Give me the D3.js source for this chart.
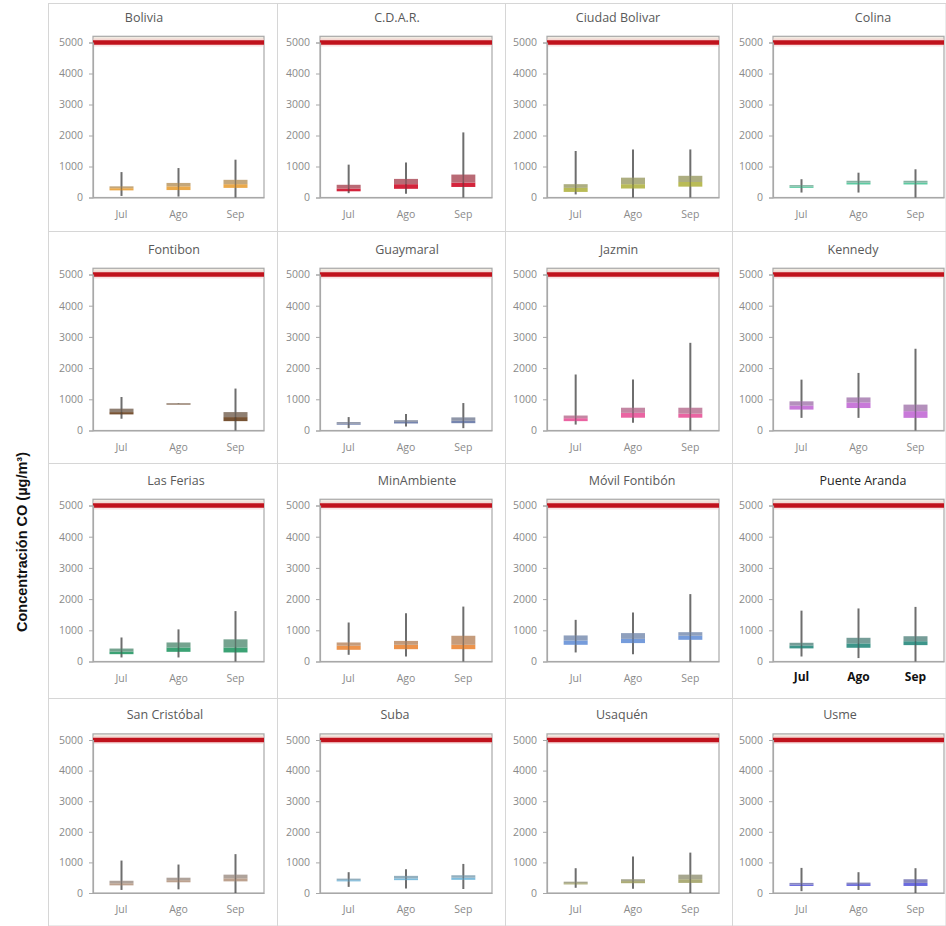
<!DOCTYPE html>
<html>
<head>
<meta charset="utf-8">
<script src="https://cdn.jsdelivr.net/npm/d3@7"></script>
<style>
  html, body { margin: 0; padding: 0; background: #fff; }
  svg { display: block; }
</style>
</head>
<body>
<svg id="chart" width="946" height="926"></svg>
<script>
// Hourly CO concentration by station, July–September (µg/m³)
const months = ["Jul", "Ago", "Sep"];
const stations = [
  "Bolivia", "C.D.A.R.", "Ciudad Bolivar", "Colina",
  "Fontibon", "Guaymaral", "Jazmin", "Kennedy",
  "Las Ferias", "MinAmbiente", "Móvil Fontibón", "Puente Aranda",
  "San Cristóbal", "Suba", "Usaquén", "Usme"
];
const boxColors = [
  "#E9A23B", "#D0112B", "#B3B548", "#4FC79A",
  "#6B4423", "#6A7BA8", "#E8579A", "#C36ED6",
  "#2A9A68", "#EB8A3C", "#6A94D8", "#2C8C80",
  "#B79A86", "#74B7DA", "#A5A56B", "#5E5EDB"
];
const whiskerLow = [
  [50, 30, 0], [140, 120, 0], [100, 0, 0], [160, 160, 0],
  [377, 855, 0], [75, 130, 75], [190, 250, 0], [405, 405, 0],
  [130, 130, 0], [215, 160, 0], [290, 235, 0], [160, 110, 0],
  [100, 120, 0], [200, 150, 130], [170, 140, 0], [60, 100, 0]
];
const firstQuartile = [
  [230, 240, 310], [200, 280, 340], [180, 290, 350], [310, 420, 420],
  [516, 852, 300], [185, 225, 235], [300, 410, 410], [670, 720, 405],
  [235, 310, 290], [375, 395, 395], [535, 590, 695], [420, 440, 525],
  [250, 350, 380], [380, 420, 430], [280, 320, 330], [230, 230, 230]
];
const medianValue = [
  [300, 360, 430], [290, 430, 480], [310, 430, 500], [355, 480, 480],
  [590, 860, 430], [215, 275, 310], [395, 565, 540], [800, 900, 620],
  [320, 450, 450], [505, 535, 535], [675, 725, 825], [515, 580, 650],
  [320, 420, 480], [420, 480, 500], [320, 390, 450], [280, 290, 330]
];
const thirdQuartile = [
  [360, 470, 570], [410, 600, 740], [430, 640, 700], [400, 540, 540],
  [700, 866, 590], [270, 330, 420], [480, 730, 730], [935, 1060, 830],
  [415, 610, 710], [610, 660, 825], [835, 910, 940], [600, 760, 810],
  [400, 500, 600], [470, 560, 580], [370, 450, 600], [330, 340, 450]
];
const whiskerHigh = [
  [820, 950, 1220], [1060, 1130, 2100], [1500, 1550, 1550], [590, 800, 910],
  [1074, 865, 1344], [430, 525, 880], [1795, 1635, 2810], [1630, 1845, 2620],
  [770, 1030, 1615], [1250, 1550, 1760], [1335, 1570, 2160], [1630, 1700, 1750],
  [1060, 930, 1270], [680, 780, 950], [810, 1190, 1320], [820, 680, 810]
];
const limitCO = 5000;
const yTicks = [0, 1000, 2000, 3000, 4000, 5000];

// Grid geometry (4 x 4 small multiples)
const colAxisX = [93, 320, 547, 773];
const colRightX = [264, 492, 719, 944];
const rowZeroY = [197.5, 430.5, 661.5, 893];
const rowLimitY = [42.5, 274.5, 505.5, 740];
const panelX = [48.5, 277.5, 505.5, 732.5, 946];
const panelY = [3.5, 231.5, 463.5, 698.5, 926];
const titleX = [144, 397, 618, 873, 174, 407, 619, 853, 176, 417, 632, 863, 165, 395, 622, 840];

const svg = d3.select("#chart");

// Panel borders
for (let r = 0; r < 4; r++) {
  for (let c = 0; c < 4; c++) {
    svg.append("rect")
      .attr("x", panelX[c]).attr("y", panelY[r])
      .attr("width", panelX[c + 1] - panelX[c])
      .attr("height", panelY[r + 1] - panelY[r])
      .attr("fill", "none").attr("stroke", "#d6d6d6").attr("stroke-width", 1);
  }
}

// Shared y-axis title
svg.append("text")
  .attr("transform", "translate(27,542) rotate(-90)")
  .attr("text-anchor", "middle")
  .attr("font-family", "Liberation Sans, Arial, sans-serif")
  .attr("font-size", 14.5).attr("font-weight", "bold").attr("fill", "#111")
  .text("Concentración CO (µg/m³)");

const fontFamily = "'Open Sans', 'Noto Sans', sans-serif";

stations.forEach((name, i) => {
  const r = Math.floor(i / 4), c = i % 4;
  const emphasised = name === "Puente Aranda";
  const g = svg.append("g");

  const x = d3.scaleBand().domain(months).range([colAxisX[c], colRightX[c]]).padding(0);
  const y = d3.scaleLinear().domain([0, limitCO]).range([rowZeroY[r], rowLimitY[r]]);
  const frameTop = 5200;

  // Title
  g.append("text")
    .attr("x", titleX[i]).attr("y", rowLimitY[r] - 21)
    .attr("text-anchor", "middle")
    .attr("font-family", fontFamily).attr("font-size", 12.5)
    .attr("fill", emphasised ? "#262626" : "#595959")
    .text(name);

  // Band above the limit and plot frame
  g.append("rect")
    .attr("x", colAxisX[c]).attr("y", y(frameTop))
    .attr("width", colRightX[c] - colAxisX[c]).attr("height", y(limitCO) - y(frameTop))
    .attr("fill", "#f1ebe2");
  g.append("rect")
    .attr("x", colAxisX[c]).attr("y", y(frameTop))
    .attr("width", colRightX[c] - colAxisX[c]).attr("height", y(0) - y(frameTop))
    .attr("fill", "none").attr("stroke", "#a8a8a8").attr("stroke-width", 1.2);

  // Permissible limit line
  g.append("line")
    .attr("x1", colAxisX[c]).attr("x2", colRightX[c])
    .attr("y1", y(limitCO)).attr("y2", y(limitCO))
    .attr("stroke", "#f5c6c6").attr("stroke-width", 8).attr("opacity", 0.5);
  g.append("line")
    .attr("x1", colAxisX[c]).attr("x2", colRightX[c])
    .attr("y1", y(limitCO)).attr("y2", y(limitCO))
    .attr("stroke", "#C0121C").attr("stroke-width", 4.5);

  // Y axis
  const yAxis = g.append("g")
    .attr("transform", `translate(${colAxisX[c]},0)`)
    .call(d3.axisLeft(y).tickValues(yTicks).tickSize(4).tickPadding(6).tickFormat(d3.format("d")));
  yAxis.select(".domain").attr("stroke", "#a8a8a8").attr("stroke-width", 1.2);
  yAxis.selectAll(".tick line").attr("stroke", "#a8a8a8");
  yAxis.selectAll(".tick text")
    .attr("font-family", fontFamily).attr("font-size", 10.5)
    .attr("fill", "#8a8a8a");

  // X axis labels
  const xAxis = g.append("g")
    .attr("transform", `translate(0,${y(0)})`)
    .call(d3.axisBottom(x).tickSize(0).tickPadding(emphasised ? 11 : 13));
  xAxis.select(".domain").attr("stroke", "#a8a8a8").attr("stroke-width", 1.2);
  xAxis.selectAll(".tick text")
    .attr("font-family", fontFamily)
    .attr("font-size", emphasised ? 12 : 10.5)
    .attr("font-weight", emphasised ? "bold" : "normal")
    .attr("fill", emphasised ? "#111" : "#8a8a8a");

  // Boxes
  const boxW = 24;
  const color = boxColors[i];
  const upper = d3.interpolateRgb(color, "#9c9c9c")(0.55);
  months.forEach((m, k) => {
    const cx = x(m) + x.bandwidth() / 2;
    const lo = whiskerLow[i][k], q1 = firstQuartile[i][k], md = medianValue[i][k],
          q3 = thirdQuartile[i][k], hi = whiskerHigh[i][k];
    g.append("line")
      .attr("x1", cx).attr("x2", cx).attr("y1", y(lo)).attr("y2", y(hi))
      .attr("stroke", "#555").attr("stroke-width", 2).attr("opacity", 0.85);
    g.append("rect")
      .attr("x", cx - boxW / 2).attr("y", y(md))
      .attr("width", boxW).attr("height", Math.max(0.8, y(q1) - y(md)))
      .attr("fill", color).attr("opacity", 0.92);
    g.append("rect")
      .attr("x", cx - boxW / 2).attr("y", y(q3))
      .attr("width", boxW).attr("height", Math.max(0.8, y(md) - y(q3)))
      .attr("fill", upper).attr("opacity", 0.92);
    g.append("line")
      .attr("x1", cx).attr("x2", cx).attr("y1", y(q3)).attr("y2", y(q1))
      .attr("stroke", "#4a4a4a").attr("stroke-width", 1.2).attr("opacity", 0.45);
  });
});
</script>
</body>
</html>
